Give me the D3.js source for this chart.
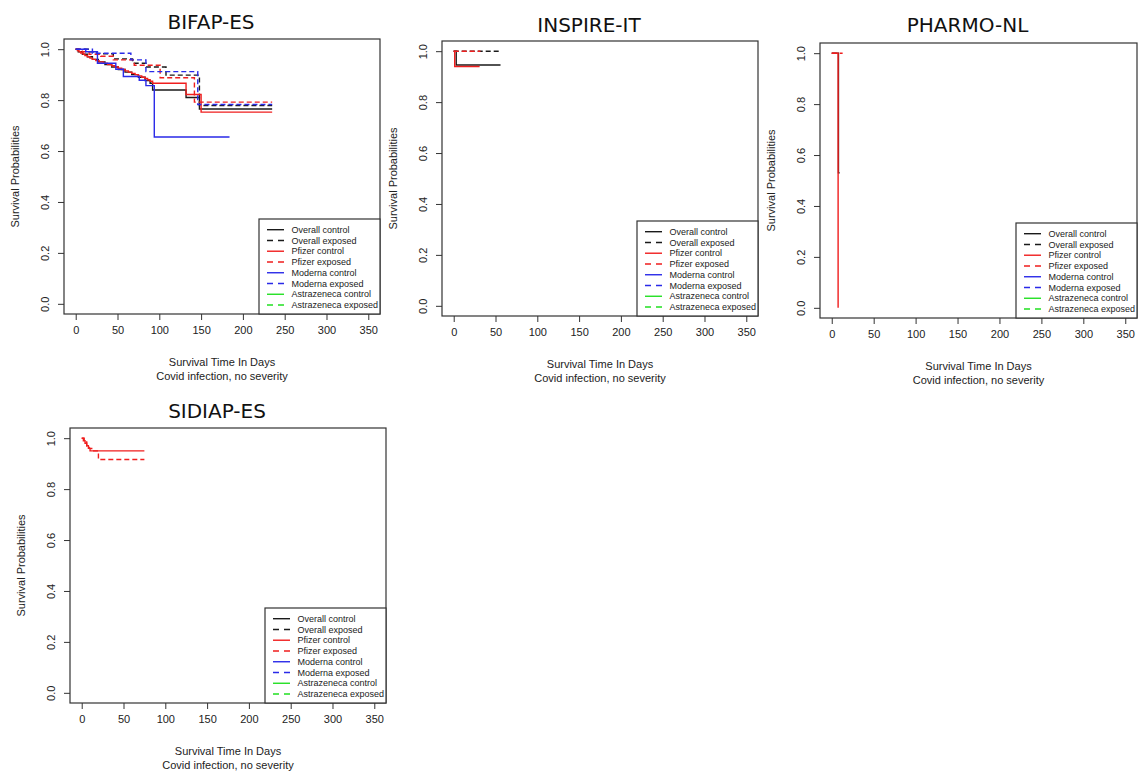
<!DOCTYPE html>
<html>
<head>
<meta charset="utf-8">
<script src="https://cdn.jsdelivr.net/npm/d3@7"></script>
<style>
  html, body { margin: 0; padding: 0; background: #ffffff; }
  svg { display: block; }
</style>
</head>
<body>
<svg id="chart" width="1139" height="772"></svg>
<script>
// ---------------- DATA ----------------
const seriesNames = ["Overall control", "Overall exposed", "Pfizer control", "Pfizer exposed",
                     "Moderna control", "Moderna exposed", "Astrazeneca control", "Astrazeneca exposed"];
const seriesColors = ["#1a1a1a", "#1a1a1a", "#f01e1e", "#f01e1e", "#2a2ae8", "#2a2ae8", "#22e022", "#22e022"];
const seriesDashed = [false, true, false, true, false, true, false, true];

const xTicks = [0, 50, 100, 150, 200, 250, 300, 350];
const yTicks = [0.0, 0.2, 0.4, 0.6, 0.8, 1.0];
const xDomain = [0, 350];
const yDomain = [0, 1];

const panelTitles = ["BIFAP-ES", "INSPIRE-IT", "PHARMO-NL", "SIDIAP-ES"];
const xTitle1 = "Survival Time In Days";
const xTitle2 = "Covid infection, no severity";
const yTitle = "Survival Probabilities";

// [day, survival probability] step points; last point marks the end of follow-up
// BIFAP-ES
const bifapOverallControl = [[0,1],[3,0.99],[8,0.98],[14,0.97],[20,0.96],[27,0.95],[35,0.94],[43,0.93],[51,0.92],[59,0.91],[67,0.9],[75,0.89],[83,0.877],[89,0.866],[92,0.84],[132,0.81],[148,0.765],[235,0.765]];
const bifapOverallExposed = [[0,1],[15,0.99],[25,0.982],[45,0.962],[68,0.945],[84,0.93],[108,0.898],[148,0.779],[235,0.779]];
const bifapPfizerControl = [[0,1],[2,0.995],[4,0.99],[6,0.985],[9,0.98],[11,0.975],[14,0.97],[17,0.965],[20,0.96],[24,0.955],[28,0.95],[33,0.945],[38,0.94],[43,0.935],[47,0.93],[51,0.925],[55,0.92],[59,0.915],[63,0.91],[67,0.905],[71,0.9],[75,0.895],[79,0.89],[83,0.885],[86,0.88],[89,0.874],[92,0.866],[132,0.822],[150,0.753],[235,0.753]];
const bifapPfizerExposed = [[0,1],[8,0.99],[16,0.98],[30,0.972],[45,0.958],[70,0.937],[101,0.888],[142,0.792],[235,0.792]];
const bifapModernaControl = [[0,1],[12,0.99],[26,0.945],[48,0.921],[57,0.893],[76,0.878],[84,0.857],[94,0.655],[184,0.655]];
const bifapModernaExposed = [[0,1],[20,0.984],[66,0.958],[84,0.912],[146,0.783],[235,0.783]];
const bifapAstraControl = [];
const bifapAstraExposed = [];

// INSPIRE-IT
const inspireOverallControl = [[0,1],[3,0.946],[56,0.946]];
const inspireOverallExposed = [[0,1],[56,1]];
const inspirePfizerControl = [[0,1],[1.2,0.94],[31,0.94]];
const inspirePfizerExposed = [[0,1],[32,1]];
const inspireModernaControl = [];
const inspireModernaExposed = [];
const inspireAstraControl = [];
const inspireAstraExposed = [];

// PHARMO-NL
const pharmoOverallControl = [[0,1],[8,0.53],[9.5,0.53]];
const pharmoOverallExposed = [];
const pharmoPfizerControl = [[0,1],[7.6,0]];
const pharmoPfizerExposed = [[0,1],[13,1]];
const pharmoModernaControl = [];
const pharmoModernaExposed = [];
const pharmoAstraControl = [];
const pharmoAstraExposed = [];

// SIDIAP-ES
const sidiapOverallControl = [];
const sidiapOverallExposed = [];
const sidiapPfizerControl = [[0,1],[2,0.99],[4,0.98],[6,0.97],[8,0.96],[10,0.95],[75,0.95]];
const sidiapPfizerExposed = [[0,1],[3,0.985],[6,0.97],[9,0.96],[12,0.95],[20,0.916],[75,0.916]];
const sidiapModernaControl = [];
const sidiapModernaExposed = [];
const sidiapAstraControl = [];
const sidiapAstraExposed = [];

const panelSeries = [
  [bifapOverallControl, bifapOverallExposed, bifapPfizerControl, bifapPfizerExposed, bifapModernaControl, bifapModernaExposed, bifapAstraControl, bifapAstraExposed],
  [inspireOverallControl, inspireOverallExposed, inspirePfizerControl, inspirePfizerExposed, inspireModernaControl, inspireModernaExposed, inspireAstraControl, inspireAstraExposed],
  [pharmoOverallControl, pharmoOverallExposed, pharmoPfizerControl, pharmoPfizerExposed, pharmoModernaControl, pharmoModernaExposed, pharmoAstraControl, pharmoAstraExposed],
  [sidiapOverallControl, sidiapOverallExposed, sidiapPfizerControl, sidiapPfizerExposed, sidiapModernaControl, sidiapModernaExposed, sidiapAstraControl, sidiapAstraExposed]
];

// ---------------- LAYOUT ----------------
const boxes = [
  {l: 64,  t: 39,  w: 316, h: 275, titleY: 29},
  {l: 442, t: 41,  w: 316, h: 275, titleY: 31.5},
  {l: 820, t: 43,  w: 317, h: 275, titleY: 31.5},
  {l: 70,  t: 428, w: 316, h: 275, titleY: 418}
];

const svg = d3.select("#chart");
const axisFont = "'Liberation Sans', Arial, sans-serif";
const titleFont = "'DejaVu Sans', Verdana, sans-serif";
const boxColor = "#333";

boxes.forEach((b, pi) => {
  // R default axis extension of 4%
  const xr = xDomain[1] - xDomain[0], yr = yDomain[1] - yDomain[0];
  const x = d3.scaleLinear().domain([xDomain[0] - 0.04 * xr, xDomain[1] + 0.04 * xr]).range([b.l, b.l + b.w]);
  const y = d3.scaleLinear().domain([yDomain[0] - 0.04 * yr, yDomain[1] + 0.04 * yr]).range([b.t + b.h, b.t]);
  const g = svg.append("g");

  // title
  g.append("text")
    .attr("x", b.l + b.w / 2 - 11).attr("y", b.titleY)
    .attr("text-anchor", "middle")
    .style("font-family", titleFont).style("font-size", "20px").style("fill", "#111")
    .text(panelTitles[pi]);

  // series lines
  const line = d3.line().x(d => x(d[0])).y(d => y(d[1])).curve(d3.curveStepAfter);
  const clip = "clip" + pi;
  svg.append("clipPath").attr("id", clip).append("rect")
    .attr("x", b.l).attr("y", b.t).attr("width", b.w).attr("height", b.h);
  const lg = g.append("g").attr("clip-path", `url(#${clip})`);
  panelSeries[pi].forEach((data, si) => {
    if (!data.length) return;
    lg.append("path")
      .attr("d", line(data))
      .attr("fill", "none")
      .attr("stroke", seriesColors[si])
      .attr("stroke-width", 1.4)
      .attr("stroke-dasharray", seriesDashed[si] ? "5,3" : null);
  });

  // axes
  const xAxis = d3.axisBottom(x).tickValues(xTicks).tickSize(6).tickSizeOuter(0).tickFormat(d3.format("d"));
  const xg = g.append("g").attr("transform", `translate(0,${b.t + b.h})`).call(xAxis);
  xg.select(".domain").remove();
  xg.selectAll("line").attr("stroke", boxColor);
  xg.selectAll("text").attr("y", 16).attr("dy", "0.35em")
    .style("font-family", axisFont).style("font-size", "11px").attr("fill", "#222");

  const yAxis = d3.axisLeft(y).tickValues(yTicks).tickSize(6).tickSizeOuter(0).tickFormat(d3.format(".1f"));
  const yg = g.append("g").attr("transform", `translate(${b.l},0)`).call(yAxis);
  yg.select(".domain").remove();
  yg.selectAll("line").attr("stroke", boxColor);
  yg.selectAll("text")
    .attr("x", null).attr("dy", "0.35em")
    .attr("transform", "translate(-19,0) rotate(-90)")
    .attr("text-anchor", "middle")
    .style("font-family", axisFont).style("font-size", "11px").attr("fill", "#222");

  // axis titles
  const cx = b.l + b.w / 2;
  g.append("text").attr("x", cx).attr("y", b.t + b.h + 52).attr("text-anchor", "middle")
    .style("font-family", axisFont).style("font-size", "11px").attr("fill", "#222").text(xTitle1);
  g.append("text").attr("x", cx).attr("y", b.t + b.h + 66).attr("text-anchor", "middle")
    .style("font-family", axisFont).style("font-size", "11px").attr("fill", "#222").text(xTitle2);
  g.append("text")
    .attr("transform", `translate(${b.l - 45},${b.t + b.h / 2}) rotate(-90)`)
    .attr("text-anchor", "middle")
    .style("font-family", axisFont).style("font-size", "11px").attr("fill", "#222").text(yTitle);

  // box
  g.append("rect").attr("x", b.l).attr("y", b.t).attr("width", b.w).attr("height", b.h)
    .attr("fill", "none").attr("stroke", boxColor).attr("stroke-width", 1.2);

  // legend (bottom right)
  const lw = 121, lh = 95;
  const lx = b.l + b.w - lw, ly = b.t + b.h - lh;
  const leg = g.append("g");
  leg.append("rect").attr("x", lx).attr("y", ly).attr("width", lw).attr("height", lh)
    .attr("fill", "#fff").attr("stroke", boxColor).attr("stroke-width", 1.2);
  seriesNames.forEach((name, si) => {
    const yy = ly + 10.7 + si * 10.76;
    leg.append("line").attr("x1", lx + 8).attr("x2", lx + 25).attr("y1", yy).attr("y2", yy)
      .attr("stroke", seriesColors[si]).attr("stroke-width", 1.4)
      .attr("stroke-dasharray", seriesDashed[si] ? "6,5" : null);
    leg.append("text").attr("x", lx + 32.5).attr("y", yy).attr("dy", "0.35em")
      .style("font-family", axisFont).style("font-size", "9px").attr("fill", "#222").text(name);
  });
});
</script>
</body>
</html>
